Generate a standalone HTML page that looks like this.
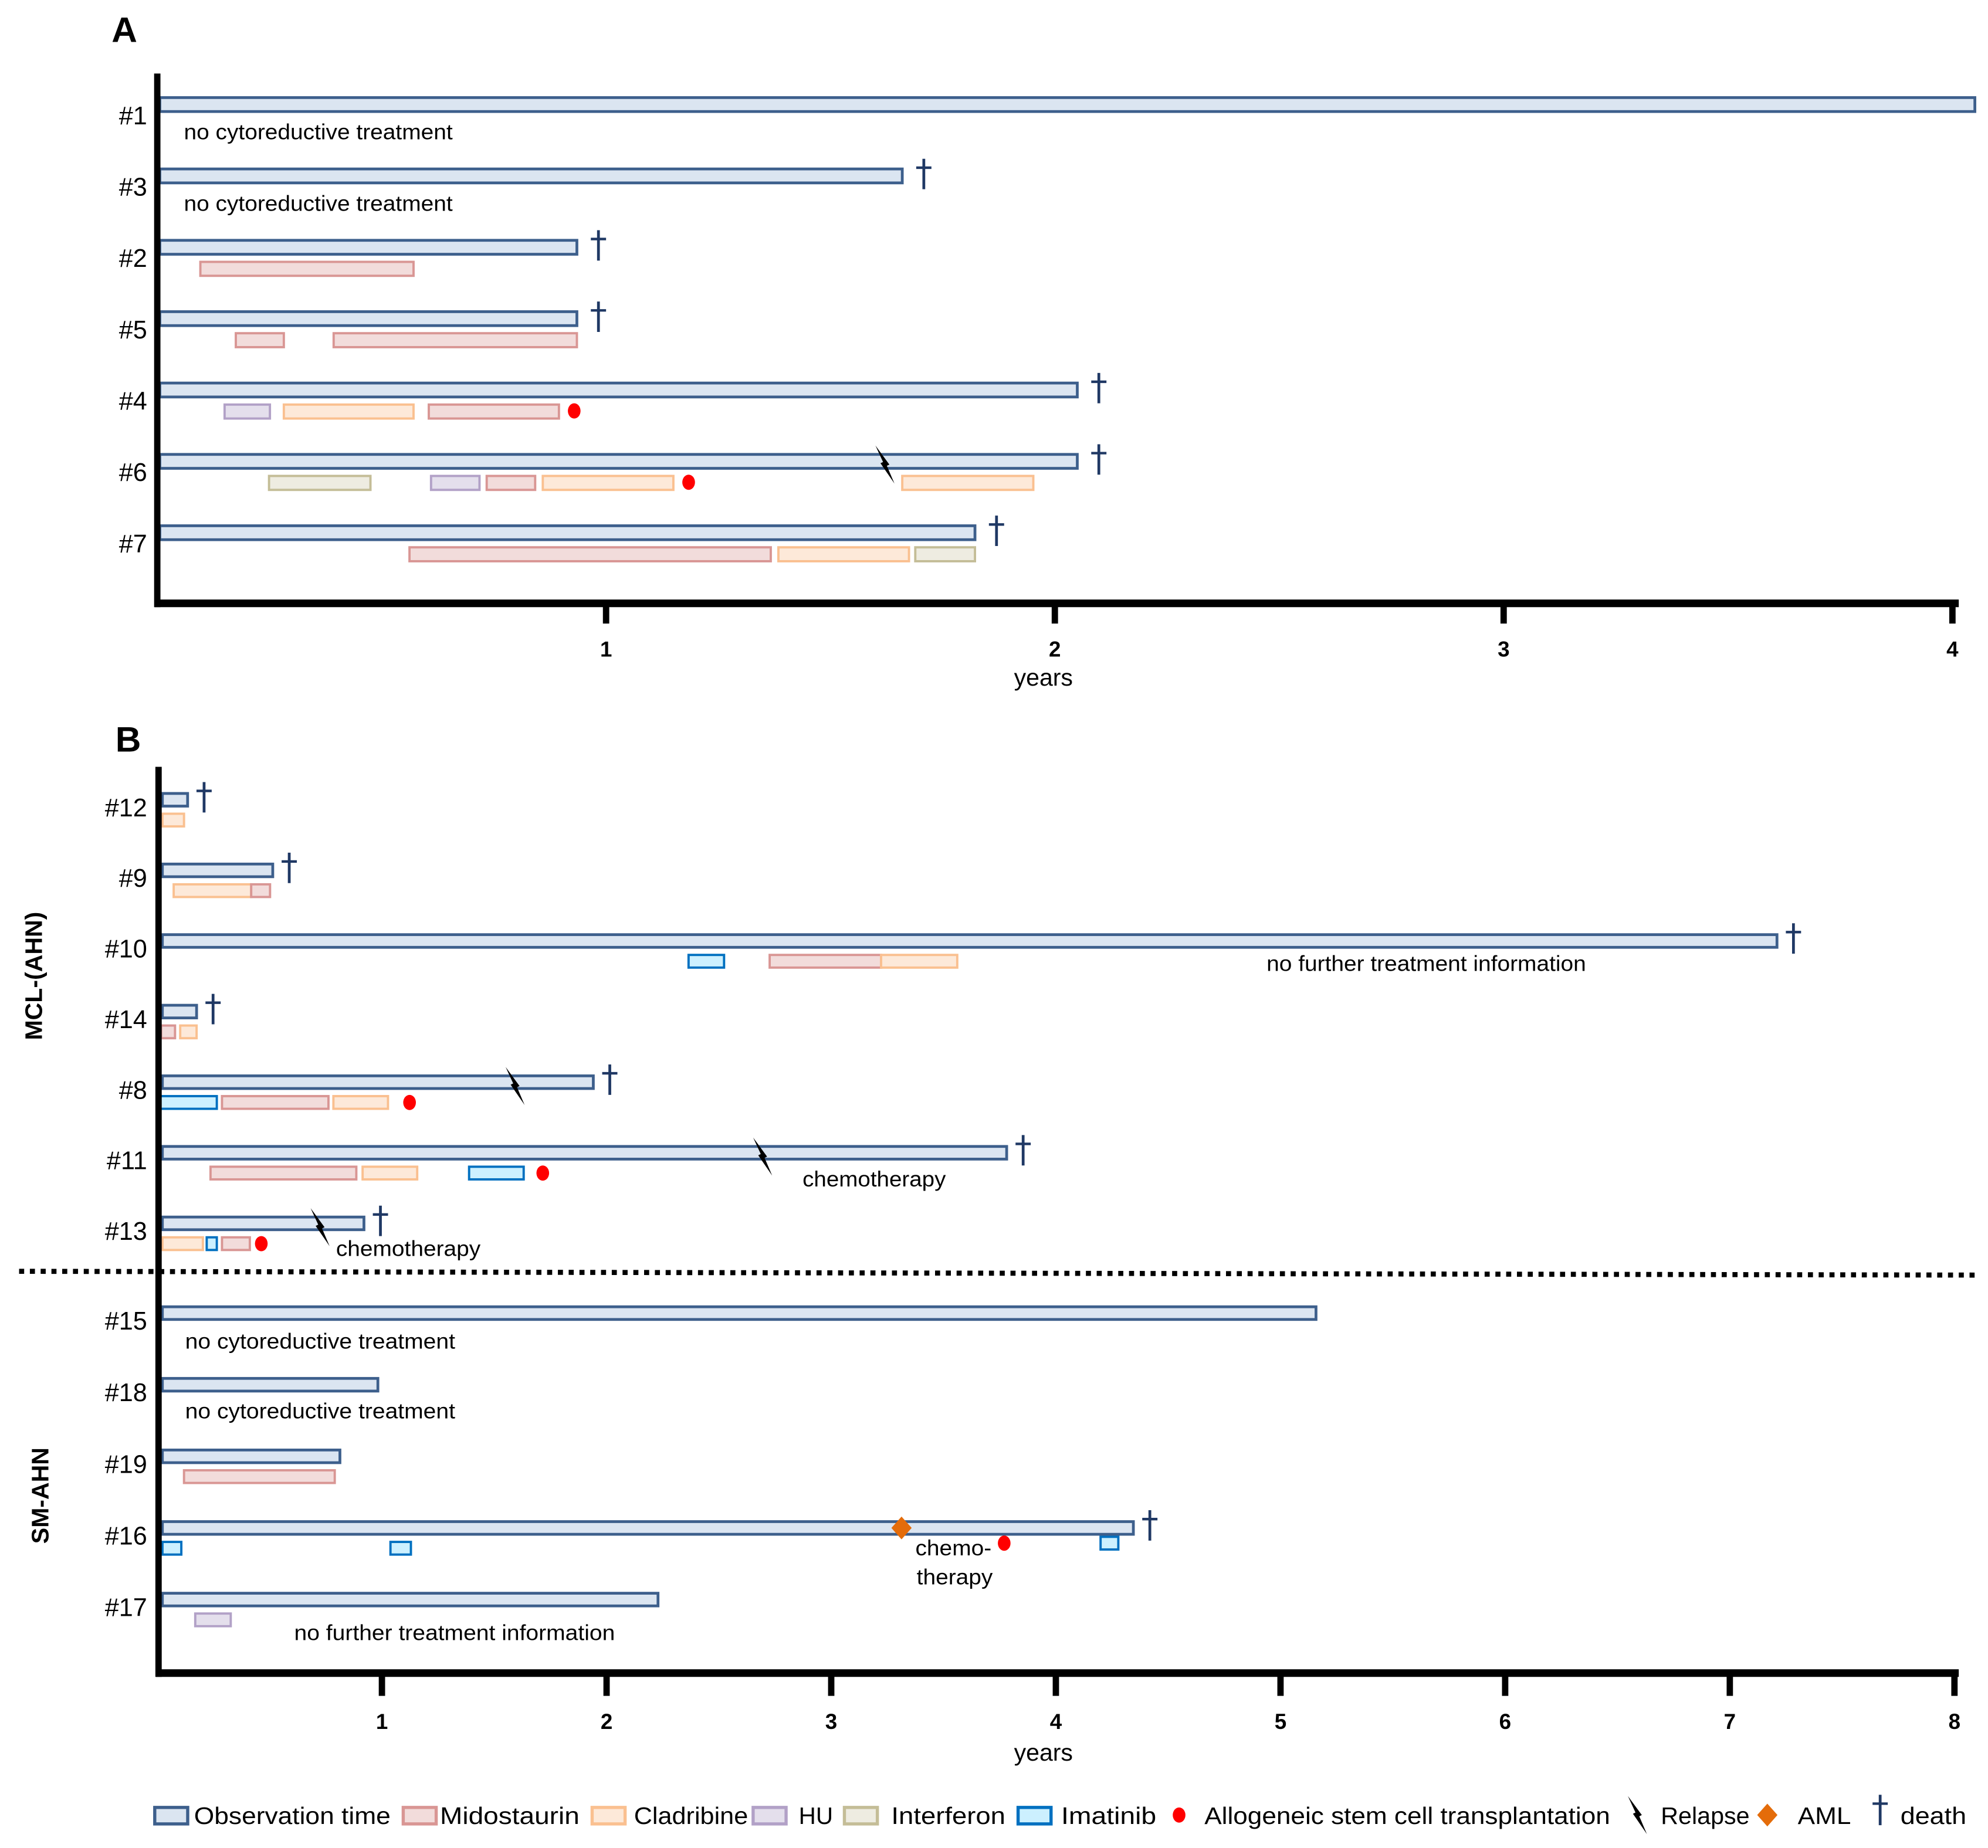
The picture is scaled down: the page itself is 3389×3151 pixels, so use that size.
<!DOCTYPE html>
<html><head><meta charset="utf-8"><style>
html,body{margin:0;padding:0;background:#fff;}
svg{display:block;font-family:"Liberation Sans",sans-serif;}
</style></head><body>
<svg id="chart" width="3389" height="3151" viewBox="0 0 1568 1458" xmlns="http://www.w3.org/2000/svg">
<g id="root"></g>
</svg>
<script>
// ---------- DATA ----------
// Panel A (values in years)
const rowsA = ["#1","#3","#2","#5","#4","#6","#7"];
const obsA = [4.05,1.66,0.935,0.935,2.05,2.05,1.822];
const deathA = [false,true,true,true,true,true,true];
const notesA = ["no cytoreductive treatment","no cytoreductive treatment","","","","",""];
// treatments: [row, type, start, end]
const treatA = [
 [2,"mido",0.096,0.571],
 [3,"mido",0.175,0.282],[3,"mido",0.393,0.935],
 [4,"hu",0.15,0.251],[4,"clad",0.282,0.571],[4,"mido",0.605,0.895],
 [5,"ifn",0.249,0.475],[5,"hu",0.61,0.718],[5,"mido",0.734,0.842],[5,"clad",0.859,1.15],[5,"clad",1.66,1.952],
 [6,"mido",0.562,1.367],[6,"clad",1.384,1.675],[6,"ifn",1.689,1.822]
];
const sctA = [[4,0.929],[5,1.184]];
const relapseA = [[5,1.62]];
const ticksA = [1,2,3,4];

// Panel B
const rowsB = ["#12","#9","#10","#14","#8","#11","#13","#15","#18","#19","#16","#17"];
const obsB = [0.135,0.514,7.21,0.175,1.941,3.781,0.92,5.158,0.982,0.813,4.345,2.229];
const deathB = [true,true,true,true,true,true,true,false,false,false,true,false];
const treatB = [
 [0,"clad",0.023,0.119],
 [1,"clad",0.073,0.418],[1,"mido",0.418,0.502],
 [2,"imat",2.365,2.523],[2,"mido",2.726,3.222],[2,"clad",3.222,3.561],
 [3,"mido",0.017,0.079],[3,"clad",0.102,0.175],
 [4,"imat",0.011,0.265],[4,"mido",0.288,0.762],[4,"clad",0.784,1.027],
 [5,"mido",0.237,0.886],[5,"clad",0.914,1.157],[5,"imat",1.388,1.631],
 [6,"clad",0.023,0.203],[6,"imat",0.22,0.265],[6,"mido",0.288,0.412],
 [9,"mido",0.119,0.79],
 [10,"imat",0.023,0.107],[10,"imat",1.038,1.129],[10,"imat",4.199,4.278],
 [11,"hu",0.169,0.327]
];
const sctB = [[4,1.123],[5,1.716],[6,0.463],[10,3.77]];
const relapseB = [[4,1.59],[5,2.692],[6,0.722]];
const amlB = [[10,3.313]];
const ticksB = [1,2,3,4,5,6,7,8];

// ---------- STYLE ----------
const ST = {
 obs:{f:"#dbe5f1",s:"#3d5f8c"}, mido:{f:"#f2dcdb",s:"#d99694"}, clad:{f:"#fde9d9",s:"#fac090"},
 hu:{f:"#e4dfec",s:"#b2a1c7"}, ifn:{f:"#eeece1",s:"#c4bd97"}, imat:{f:"#ccf0ff",s:"#0070c0"}
};
const NS="http://www.w3.org/2000/svg";
const root=document.getElementById('root');
function mk(tag,attrs,parent){const e=document.createElementNS(NS,tag);for(const k in attrs)e.setAttribute(k,attrs[k]);(parent||root).appendChild(e);return e;}
function txt(x,y,s,size,opts,parent){const e=mk('text',Object.assign({x:x,y:y,'font-size':size,fill:'#000'},opts||{}),parent);e.textContent=s;return e;}

const sA=v=>124+v*354;
const sB=v=>124+v*177.2;
const yA=i=>77+i*56.3;
const yB=i=>i<7?626+i*55.7:1031+(i-7)*56.5;

function dagger(x,y){
 const g=mk('g',{});
 
 
 mk('line',{x1:x,y1:y-12,x2:x,y2:y+12,stroke:'#1f3864','stroke-width':2.2},g);
 mk('line',{x1:x-6,y1:y-5,x2:x+6,y2:y-5,stroke:'#1f3864','stroke-width':2},g);
 return g;
}
function relapse(x,y){
 const p=mk('path',{d:`M${x-7} ${y-15} L${x-1} ${y-2} L${x-3} ${y-1} L${x+8} ${y+15} L${x+2} ${y+1} L${x+4} ${y} Z`,fill:'#000'});
 
 
}
function sct(x,y){
 const c=mk('ellipse',{cx:x,cy:y,rx:5,ry:6,fill:'#ff0000'});
 
 
}
function aml(x,y){
 const d=mk('path',{d:`M${x} ${y-9} L${x+8} ${y} L${x} ${y+9} L${x-8} ${y} Z`,fill:'#e46c0a'});
 
 
}
function bar(type,x1,x2,y,h,name){
 const r=mk('rect',{x:x1,y:y,width:Math.max(2,x2-x1),height:h,fill:ST[type].f,stroke:ST[type].s,'stroke-width':type==='obs'?2.2:1.8});
 
 
}

// ---------- PANEL A ----------
txt(88,33,"A",28,{'font-weight':'bold'});
rowsA.forEach((r,i)=>{
 const y=yA(i);
 const l=txt(116,y+21,r,20,{'text-anchor':'end'});
 
 
 bar('obs',126,sA(obsA[i]),y,11,'observation-bar-'+r.slice(1));
 if(deathA[i]) dagger(sA(obsA[i])+17,y+4);
 if(notesA[i]){const t=txt(145,y+33,notesA[i],17,{textLength:212,lengthAdjust:'spacingAndGlyphs'});
  }
});
treatA.forEach(t=>{bar(t[1],sA(t[2]),sA(t[3]),yA(t[0])+17,11,t[1]+'-bar');});
sctA.forEach(s=>sct(sA(s[1]),yA(s[0])+22));
relapseA.forEach(s=>relapse(sA(s[1]),yA(s[0])+8));
let ax=mk('line',{x1:124,y1:58,x2:124,y2:479,stroke:'#000','stroke-width':5});

ax=mk('line',{x1:122,y1:476,x2:1545,y2:476,stroke:'#000','stroke-width':6});

ticksA.forEach(v=>{
 mk('line',{x1:sA(v),y1:476,x2:sA(v),y2:492,stroke:'#000','stroke-width':5});
 const t=txt(sA(v),518,String(v),17,{'text-anchor':'middle','font-weight':'bold'});
 
});
txt(823,541,"years",19,{'text-anchor':'middle'});

// ---------- PANEL B ----------
txt(91,593,"B",28,{'font-weight':'bold'});
let g1=txt(0,0,"MCL-(AHN)",19,{'font-weight':'bold','text-anchor':'middle',transform:'translate(33,770) rotate(-90)'});

let g2=txt(0,0,"SM-AHN",19,{'font-weight':'bold','text-anchor':'middle',transform:'translate(38,1180) rotate(-90)'});

rowsB.forEach((r,i)=>{
 const y=yB(i);
 const l=txt(116,y+18,r,20,{'text-anchor':'end'});
 
 
 bar('obs',128,sB(obsB[i]),y,10,'observation-bar-'+r.slice(1));
 if(deathB[i]) dagger(sB(obsB[i])+13,y+3);
});
treatB.forEach(t=>{bar(t[1],sB(t[2]),sB(t[3]),yB(t[0])+(t[0]===10&&t[3]>4?12:16),10,t[1]+'-bar');});
sctB.forEach(s=>sct(sB(s[1]),yB(s[0])+(s[0]===10?17:21)));
relapseB.forEach(s=>relapse(sB(s[1]),yB(s[0])+8));
amlB.forEach(s=>aml(sB(s[1]),yB(s[0])+5));
const notesB=[[999,766,"no further treatment information",252],[633,936,"chemotherapy",113],[265,991,"chemotherapy",114],
 [146,1064,"no cytoreductive treatment",213],[146,1119,"no cytoreductive treatment",213],[722,1227,"chemo-",60],[723,1250,"therapy",60],
 [232,1294,"no further treatment information",253]];
notesB.forEach(n=>{const t=txt(n[0],n[1],n[2],17,{textLength:n[3],lengthAdjust:'spacingAndGlyphs'});});
let dl=mk('line',{x1:15,y1:1003,x2:1558,y2:1006,stroke:'#000','stroke-width':4,'stroke-dasharray':'4 4.5'});

ax=mk('line',{x1:125,y1:605,x2:125,y2:1323,stroke:'#000','stroke-width':5});

ax=mk('line',{x1:123,y1:1320,x2:1545,y2:1320,stroke:'#000','stroke-width':6});

ticksB.forEach(v=>{
 mk('line',{x1:sB(v),y1:1320,x2:sB(v),y2:1338,stroke:'#000','stroke-width':5});
 const t=txt(sB(v),1364,String(v),17,{'text-anchor':'middle','font-weight':'bold'});
 
});
txt(823,1389,"years",19,{'text-anchor':'middle'});

// ---------- LEGEND ----------
const legBoxes=[["obs",122,153,"Observation time",155],["mido",318,347,"Midostaurin",110],["clad",467,500,"Cladribine",90],
 ["hu",594,630,"HU",27],["ifn",666,703,"Interferon",90],["imat",803,837,"Imatinib",75]];
legBoxes.forEach(b=>{
 const r=mk('rect',{x:b[1],y:1426,width:26,height:13,fill:ST[b[0]].f,stroke:ST[b[0]].s,'stroke-width':2.5});
 
 const t=txt(b[2],1439,b[3],19,{textLength:b[4],lengthAdjust:'spacingAndGlyphs'});
 
});
sct(930,1432);
txt(950,1439,"Allogeneic stem cell transplantation",19,{textLength:320,lengthAdjust:'spacingAndGlyphs'});
relapse(1291,1432);
txt(1310,1439,"Relapse",19,{textLength:70,lengthAdjust:'spacingAndGlyphs'});
aml(1394,1432);
txt(1418,1439,"AML",19,{textLength:42,lengthAdjust:'spacingAndGlyphs'});
dagger(1483,1428);
txt(1499,1439,"death",19,{textLength:52,lengthAdjust:'spacingAndGlyphs'});
</script>
</body></html>
